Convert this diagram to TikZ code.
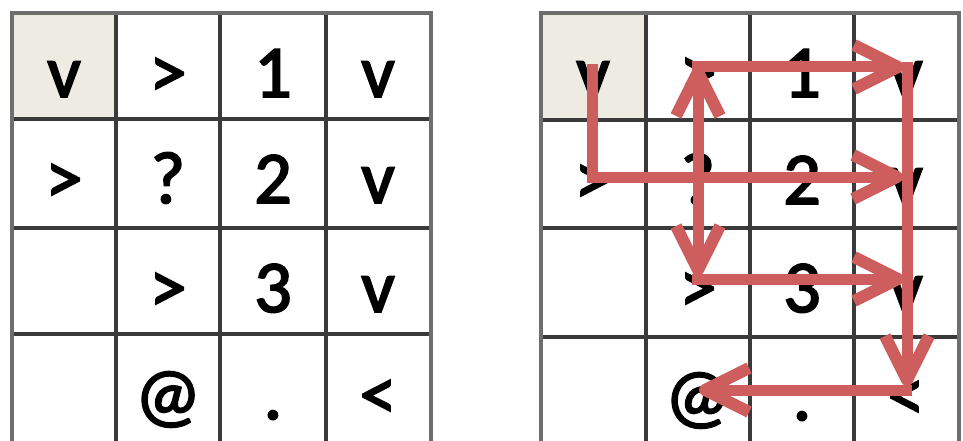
\documentclass[tikz,border=0pt]{standalone}
\usepackage{fontspec}
\setmainfont{Carlito}
\newfontfamily\cellfont{Carlito}[FakeBold=2.5]
\definecolor{cellshade}{HTML}{EEEBE3}
\definecolor{gridinner}{HTML}{3A3A3A}
\definecolor{gridouter}{HTML}{6E6E6E}
\definecolor{arrowred}{RGB}{206,94,94}
\begin{document}
\begin{tikzpicture}[x=1pt,y=-1pt,
  cellchar/.style={anchor=base,inner sep=0pt,font=\fontsize{74}{74}\cellfont},
  gridline/.style={draw=gridinner,line width=3.5pt},
  border/.style={draw=gridouter,line width=4.5pt},
  shaft/.style={draw=arrowred,line width=11pt,line join=miter},
  barbline/.style={draw=arrowred,line width=12pt,line join=round}
]
\useasboundingbox (0,0) rectangle (963,441);
\clip (0,0) rectangle (963,441);
\fill[white] (0,0) rectangle (963,441);
% ---------- left grid ----------
\fill[cellshade] (12,13) rectangle (116,119);
\foreach \x in {116,220,326} \draw[gridline] (\x,13) -- (\x,460);
\foreach \y in {119,228,334} \draw[gridline] (12,\y) -- (431,\y);
\draw[border] (12,460) -- (12,13) -- (431,13) -- (431,460);
% ---------- right grid ----------
\fill[cellshade] (541,13) rectangle (646,120);
\foreach \x in {646,750,854} \draw[gridline] (\x,13) -- (\x,460);
\foreach \y in {120,228,337} \draw[gridline] (541,\y) -- (959,\y);
\draw[border] (541,460) -- (541,13) -- (959,13) -- (959,460);
% ---------- left texts ----------
\node[cellchar] (l00) at (64,97) {v};
\node[cellchar] (l01) at (168,97) {>};
\node[cellchar] (l02) at (273,97) {1};
\node[cellchar] (l03) at (378,97) {v};
\node[cellchar] (l10) at (64,203) {>};
\node[cellchar] (l11) at (168,203) {?};
\node[cellchar] (l12) at (273,203) {2};
\node[cellchar] (l13) at (378,203) {v};
\node[cellchar] (l21) at (168,312) {>};
\node[cellchar] (l22) at (273,312) {3};
\node[cellchar] (l23) at (378,312) {v};
\node[cellchar] (l31) at (168,419) {@};
\node[cellchar] (l32) at (273,419) {.};
\node[cellchar] (l33) at (378,419) {<};
% ---------- right texts ----------
\node[cellchar] (r00) at (593,97) {v};
\node[cellchar] (r01) at (698,97) {>};
\node[cellchar] (r02) at (802,97) {1};
\node[cellchar] (r03) at (906,97) {v};
\node[cellchar] (r10) at (593,204) {>};
\node[cellchar] (r11) at (698,204) {?};
\node[cellchar] (r12) at (802,204) {2};
\node[cellchar] (r13) at (906,204) {v};
\node[cellchar] (r21) at (698,312) {>};
\node[cellchar] (r22) at (802,312) {3};
\node[cellchar] (r23) at (906,312) {v};
\node[cellchar] (r31) at (698,420) {@};
\node[cellchar] (r32) at (802,420) {.};
\node[cellchar] (r33) at (906,420) {<};
% ---------- arrow anchor points ----------
\coordinate (pA) at (592,64);
\coordinate (pAc) at (592,177);
\coordinate (pAe) at (897,177);
\coordinate (pBt) at (698,72);
\coordinate (pBb) at (698,270);
\coordinate (pC) at (692,67);
\coordinate (pCe) at (898,67);
\coordinate (pD) at (692,279);
\coordinate (pDe) at (898,279);
\coordinate (pE) at (907,62);
\coordinate (pEe) at (907,380);
\coordinate (pF) at (912,390);
\coordinate (pFe) at (705,390);
% ---------- shafts ----------
\draw[shaft] (pA) -- (pAc) -- (pAe);
\draw[shaft] (pC) -- (pCe);
\draw[shaft] (pD) -- (pDe);
\draw[shaft] (pBt) -- (pBb);
\draw[shaft] (pE) -- (pEe);
\draw[shaft] (pF) -- (pFe);
% ---------- open arrowheads ----------
\draw[barbline] (pAe) ++(-44,-22) -- (pAe) -- ++(-44,22);
\draw[barbline] (pCe) ++(-44,-22) -- (pCe) -- ++(-44,22);
\draw[barbline] (pDe) ++(-44,-22) -- (pDe) -- ++(-44,22);
\draw[barbline] (pBt) ++(-22,44) -- (pBt) -- ++(22,44);
\draw[barbline] (pBb) ++(-22,-44) -- (pBb) -- ++(22,-44);
\draw[barbline] (pEe) ++(-22,-44) -- (pEe) -- ++(22,-44);
\draw[barbline] (pFe) ++(44,-22) -- (pFe) -- ++(44,22);
\end{tikzpicture}
\end{document}
